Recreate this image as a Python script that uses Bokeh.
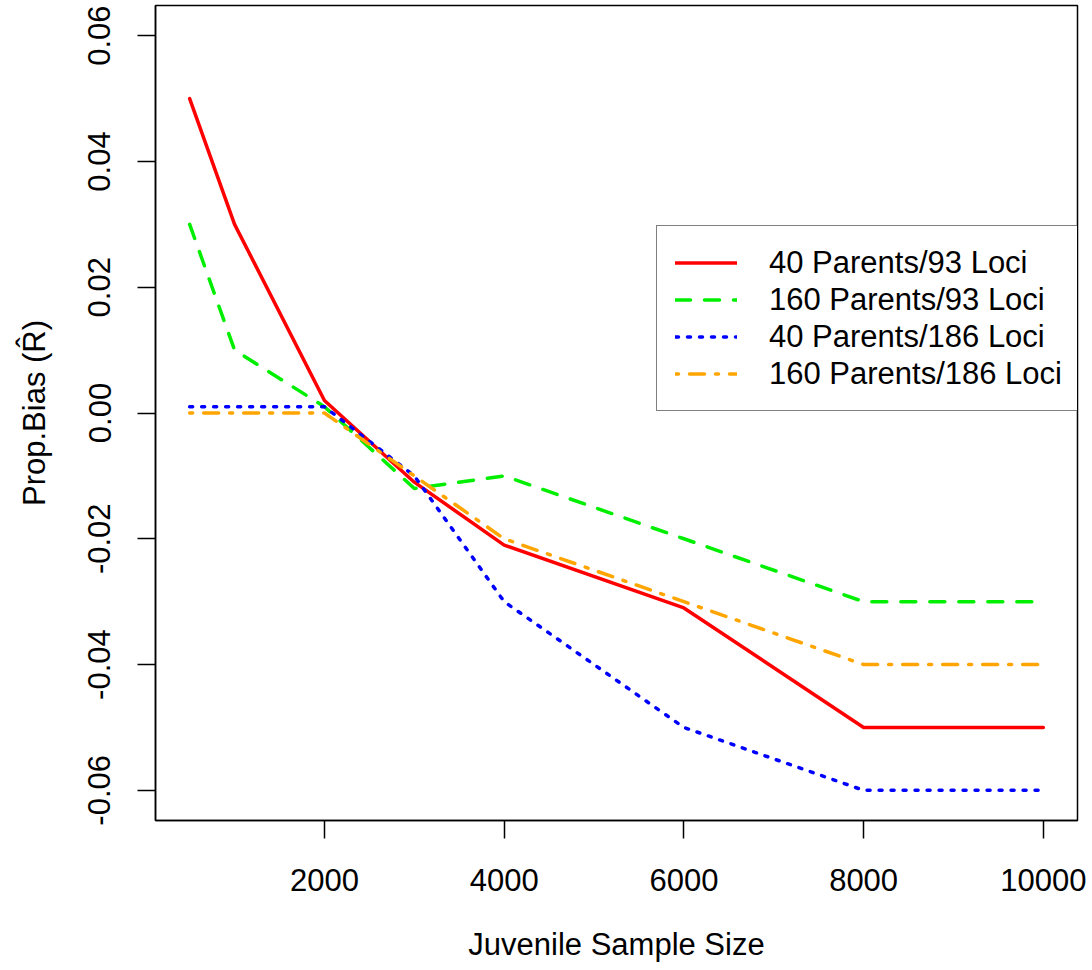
from bokeh.plotting import figure
from bokeh.models import FixedTicker, PrintfTickFormatter, BasicTickFormatter, Legend, LegendItem, Range1d
from bokeh.embed import file_html
from bokeh.resources import INLINE

sample_size = [500, 1000, 2000, 3000, 4000, 6000, 8000, 10000]
p40_l93 = [0.05, 0.03, 0.002, -0.011, -0.021, -0.031, -0.05, -0.05]
p160_l93 = [0.03, 0.01, 0.001, -0.012, -0.01, -0.02, -0.03, -0.03]
p40_l186 = [0.001, 0.001, 0.001, -0.010, -0.03, -0.05, -0.06, -0.06]
p160_l186 = [0.0, 0.0, 0.0, -0.010, -0.02, -0.03, -0.04, -0.04]
series_labels = ["40 Parents/93 Loci", "160 Parents/93 Loci", "40 Parents/186 Loci", "160 Parents/186 Loci"]
x_ticks = [2000, 4000, 6000, 8000, 10000]
y_ticks = [-0.06, -0.04, -0.02, 0.0, 0.02, 0.04, 0.06]

FONT = "Liberation Sans"

p = figure(width=1092, height=970, output_backend="svg", toolbar_location=None,
           x_range=Range1d(120, 10380), y_range=Range1d(-0.0648, 0.0648),
           min_border_left=155, min_border_right=15, min_border_top=5, min_border_bottom=150)
p.background_fill_color = "white"
p.border_fill_color = "white"
p.grid.visible = False
p.outline_line_color = "black"
p.outline_line_width = 1.5

styles = [
    ("red", "solid", p40_l93),
    ("#00ee00", "15 14", p160_l93),
    ("blue", "3 9", p40_l186),
    ("orange", "3 11 15 11", p160_l186),
]
renderers = []
for color, dash, ys in styles:
    r = p.line(sample_size, ys, line_color=color, line_width=3.5, line_dash=dash, line_cap="round", line_join="round")
    renderers.append(r)

p.xaxis.ticker = FixedTicker(ticks=x_ticks)
p.xaxis.formatter = BasicTickFormatter(use_scientific=False)
p.yaxis.ticker = FixedTicker(ticks=y_ticks)
p.yaxis.formatter = PrintfTickFormatter(format="%.2f")
p.yaxis.major_label_orientation = "vertical"

for ax in (p.xaxis, p.yaxis):
    ax.axis_line_color = "black"
    ax.axis_line_width = 1.5
    ax.major_tick_line_color = "black"
    ax.major_tick_line_width = 1.5
    ax.major_tick_in = 0
    ax.major_tick_out = 18
    ax.minor_tick_line_color = None
    ax.major_label_text_font = FONT
    ax.major_label_text_font_size = "31px"
    ax.major_label_text_color = "black"
    ax.axis_label_text_font = FONT
    ax.axis_label_text_font_size = "31px"
    ax.axis_label_text_font_style = "normal"
    ax.axis_label_text_color = "black"

p.xaxis.major_label_standoff = 30
p.yaxis.major_label_standoff = 27
p.xaxis.axis_label = "Juvenile Sample Size"
p.yaxis.axis_label = "Prop.Bias (R\u0302)"
p.xaxis.axis_label_standoff = 33
p.yaxis.axis_label_standoff = 34

legend = Legend(items=[LegendItem(label=lab, renderers=[r]) for lab, r in zip(series_labels, renderers)],
                location=(501, 409))
legend.border_line_color = "black"
legend.border_line_width = 1.5
legend.background_fill_alpha = 1
legend.label_text_font = FONT
legend.label_text_font_size = "31px"
legend.label_text_color = "black"
legend.glyph_width = 62
legend.glyph_height = 37
legend.label_height = 37
legend.label_standoff = 32
legend.spacing = 0
legend.padding = 18
legend.margin = 0
p.add_layout(legend, "center")

open("out.html", "w").write(file_html(p, INLINE))
